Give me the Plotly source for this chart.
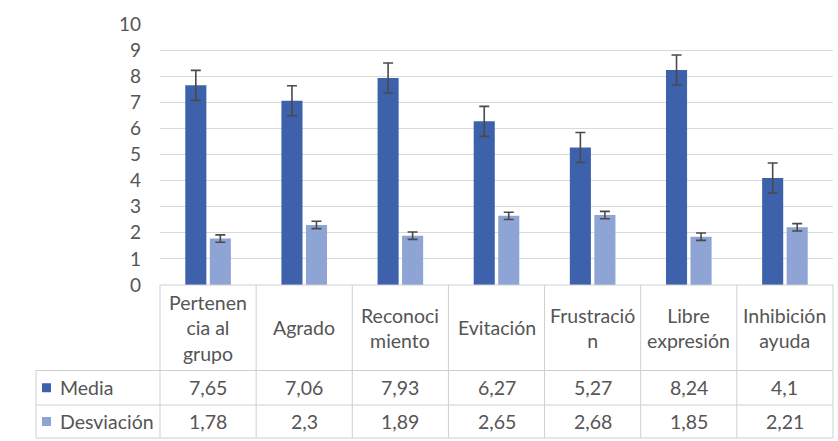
import plotly.graph_objects as go

# Data
categories = ["Pertenencia al grupo", "Agrado", "Reconocimiento", "Evitación",
              "Frustración", "Libre expresión", "Inhibición ayuda"]
header_labels = ["Pertenen<br>cia al<br>grupo", "Agrado", "Reconoci<br>miento", "Evitación",
                 "Frustració<br>n", "Libre<br>expresión", "Inhibición<br>ayuda"]
media = [7.65, 7.06, 7.93, 6.27, 5.27, 8.24, 4.1]
desviacion = [1.78, 2.3, 1.89, 2.65, 2.68, 1.85, 2.21]
media_err = 0.575   # standard error of the series
desv_err = 0.14
y_ticks = [0, 1, 2, 3, 4, 5, 6, 7, 8, 9, 10]

series = [("Media", media, media_err, "#3D62AB"),
          ("Desviación", desviacion, desv_err, "#8EA4D4")]

# Layout geometry (pixels)
W, H = 838, 441
ML, MR, MT, MB = 160, 5, 24, 156
PW, PH = W - ML - MR, H - MT - MB
FONT = "Lato"
TXT = "#555555"
GRID = "#D9D9D9"
BORDER = "#CFCFCF"


def px(xp):
    return (xp - ML) / PW


def py(yp):
    return (H - MB - yp) / PH


n = len(categories)
xs = list(range(n))

fig = go.Figure()
for name, vals, err, col in series:
    fig.add_trace(go.Bar(
        x=xs, y=vals, name=name,
        marker=dict(color=col, line=dict(width=0)),
        error_y=dict(type="constant", value=err, color="#4A4A4A",
                     thickness=1.6, width=5),
    ))

# Data table below the chart
row_top = H - MB           # 285
row_hdr_bot = 370.5
row_media_bot = 405
row_desv_bot = 438
left_hdr = 36

shapes = []
line = dict(color=BORDER, width=1)
# horizontal borders
shapes.append(dict(type="line", xref="paper", yref="paper", x0=0, x1=1,
                   y0=py(row_top), y1=py(row_top), line=line))
for yb in (row_hdr_bot, row_media_bot, row_desv_bot):
    shapes.append(dict(type="line", xref="paper", yref="paper", x0=px(left_hdr), x1=1,
                       y0=py(yb), y1=py(yb), line=line))
# vertical borders
for i in range(n + 1):
    shapes.append(dict(type="line", xref="paper", yref="paper", x0=i / n, x1=i / n,
                       y0=py(row_top), y1=py(row_desv_bot), line=line))
shapes.append(dict(type="line", xref="paper", yref="paper", x0=px(left_hdr), x1=px(left_hdr),
                   y0=py(row_hdr_bot), y1=py(row_desv_bot), line=line))

annotations = []
fnt = dict(family=FONT, size=19.5, color=TXT)
for i, lab in enumerate(header_labels):
    annotations.append(dict(xref="paper", yref="paper", x=(i + 0.5) / n,
                            y=py((row_top + row_hdr_bot) / 2), text=lab, showarrow=False,
                            font=fnt, xanchor="center", yanchor="middle", align="center"))

row_bounds = [(row_hdr_bot, row_media_bot), (row_media_bot, row_desv_bot)]
for (name, vals, err, col), (t, b) in zip(series, row_bounds):
    yc = py((t + b) / 2)
    for i, v in enumerate(vals):
        annotations.append(dict(xref="paper", yref="paper", x=(i + 0.5) / n, y=yc,
                                text=str(v).replace(".", ","), showarrow=False, font=fnt,
                                xanchor="center", yanchor="middle"))
    # legend key and series name
    yc_px = (t + b) / 2
    shapes.append(dict(type="rect", xref="paper", yref="paper", x0=px(42), x1=px(51),
                       y0=py(yc_px + 4.5), y1=py(yc_px - 4.5), fillcolor=col,
                       line=dict(width=0)))
    annotations.append(dict(xref="paper", yref="paper", x=px(58), y=yc, text=name,
                            showarrow=False, font=fnt, xanchor="left", yanchor="middle"))

fig.update_layout(
    width=W, height=H,
    margin=dict(l=ML, r=MR, t=MT, b=MB),
    paper_bgcolor="white", plot_bgcolor="white",
    barmode="group", bargap=0.49, bargroupgap=0.14,
    showlegend=False,
    font=dict(family=FONT, color=TXT),
    xaxis=dict(range=[-0.5, n - 0.5], showticklabels=False, showgrid=False,
               zeroline=False, showline=False, fixedrange=True),
    yaxis=dict(range=[0, 10], tickvals=y_ticks, showgrid=True, gridcolor=GRID,
               gridwidth=1.3, zeroline=False, showline=False,
               tickfont=dict(family=FONT, size=19, color=TXT),
               ticklabelstandoff=18, fixedrange=True),
    shapes=shapes,
    annotations=annotations,
)

fig.write_html("out.html")
